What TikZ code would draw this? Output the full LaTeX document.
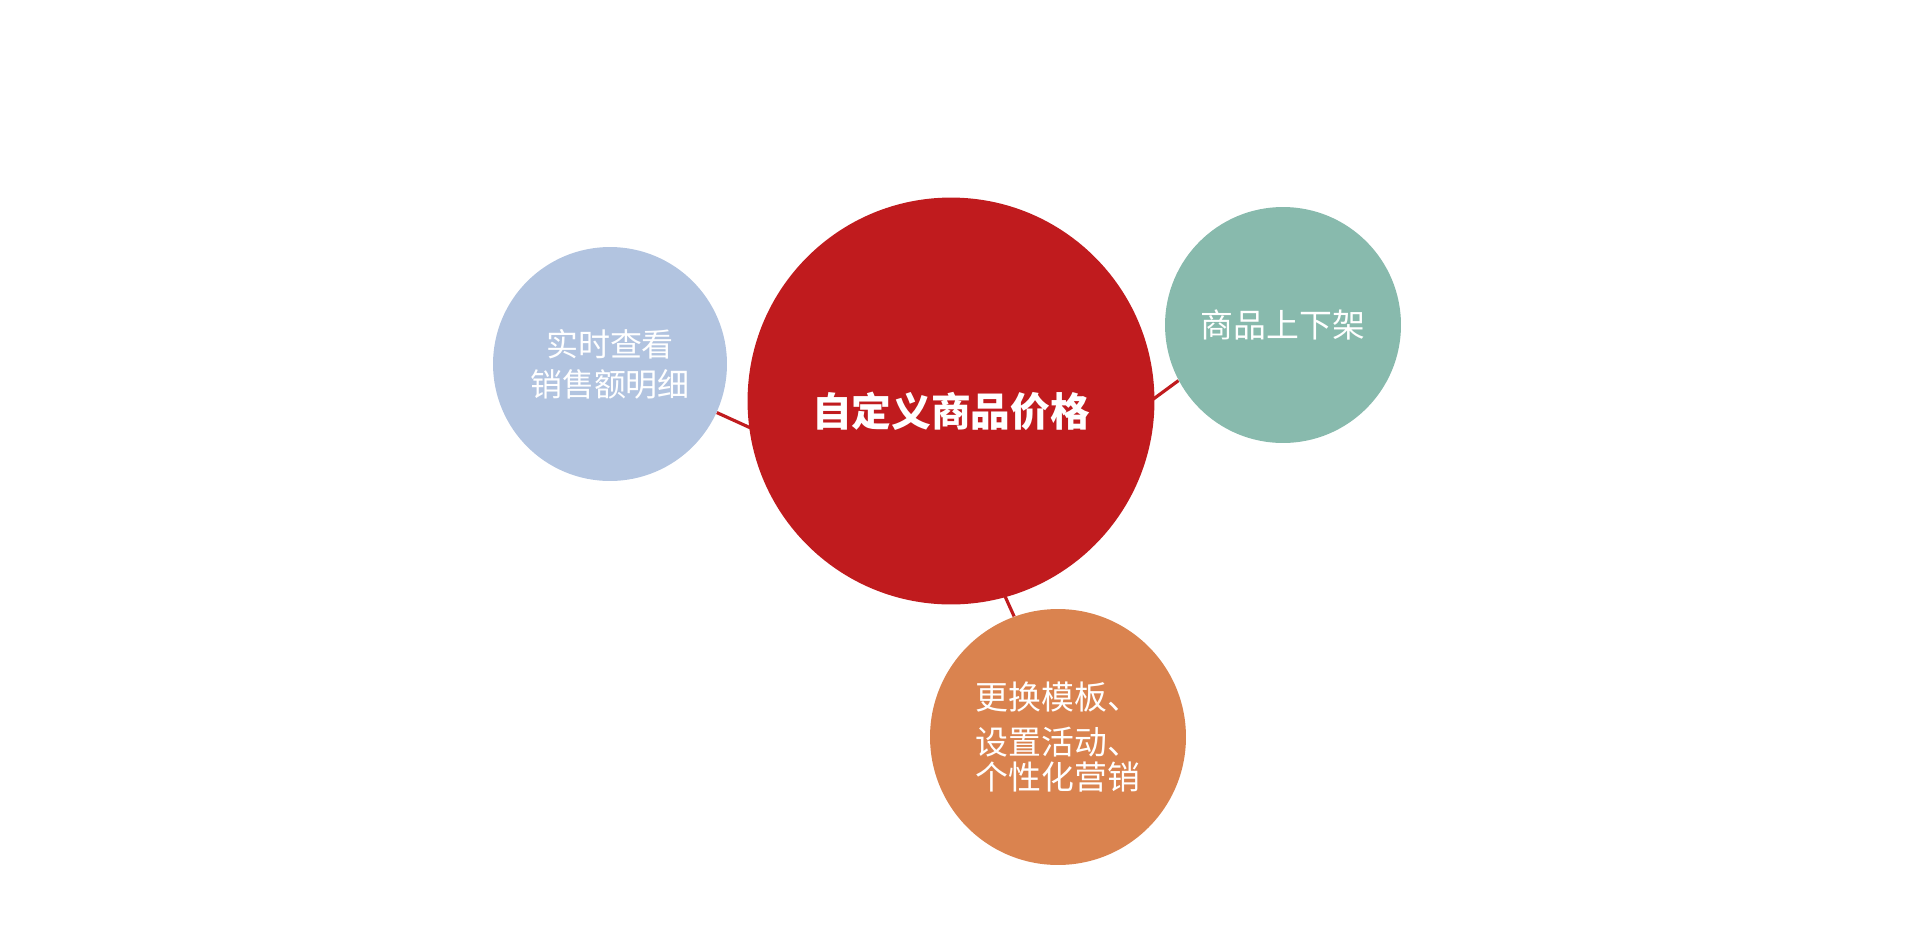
\documentclass[tikz,border=0pt]{standalone}
\usepackage{fontspec}
\setmainfont{Noto Sans CJK SC}
\usetikzlibrary{backgrounds}
\definecolor{pricered}{HTML}{C01B1E}
\definecolor{salesblue}{HTML}{B2C4E0}
\definecolor{shelfgreen}{HTML}{88BAAD}
\definecolor{promoorange}{HTML}{DA834F}

\begin{document}
\begin{tikzpicture}
[x=0.02cm,y=-0.02cm,
bubble/.style={circle, draw=none, inner sep=0pt, text=white, align=center},
small/.style={font=\fontsize{18.7}{20}\selectfont},
link/.style={draw=pricered, line width=1.8pt}]
\useasboundingbox (0,0) rectangle (1920,927);

\node[bubble, fill=pricered, minimum size=8.14cm] (price) at (951,401) {};
\node[text=white, font=\fontsize{22.6}{26}\selectfont\bfseries] (pricetxt) at (951,411) {自定义商品价格};

\node[bubble, fill=salesblue, minimum size=4.68cm, font=\fontsize{18.2}{22.7}\selectfont] (sales) at (610,364) {实时查看\\销售额明细};
\node[bubble, fill=shelfgreen, minimum size=4.72cm, small] (shelf) at (1283,325) {商品上下架};
\node[bubble, fill=promoorange, minimum size=5.12cm, small, align=left] (promo) at (1058,737) {更换模板、\\[5.5pt]设置活动、\\个性化营销};

% connectors behind the bubbles
\coordinate (hub) at (975,530);
\begin{scope}[on background layer]
\draw[link] (hub) -- (sales);
\draw[link] (hub) -- (shelf.208);
\draw[link] (hub) -- (promo.110);
\end{scope}
\end{tikzpicture}
\end{document}
